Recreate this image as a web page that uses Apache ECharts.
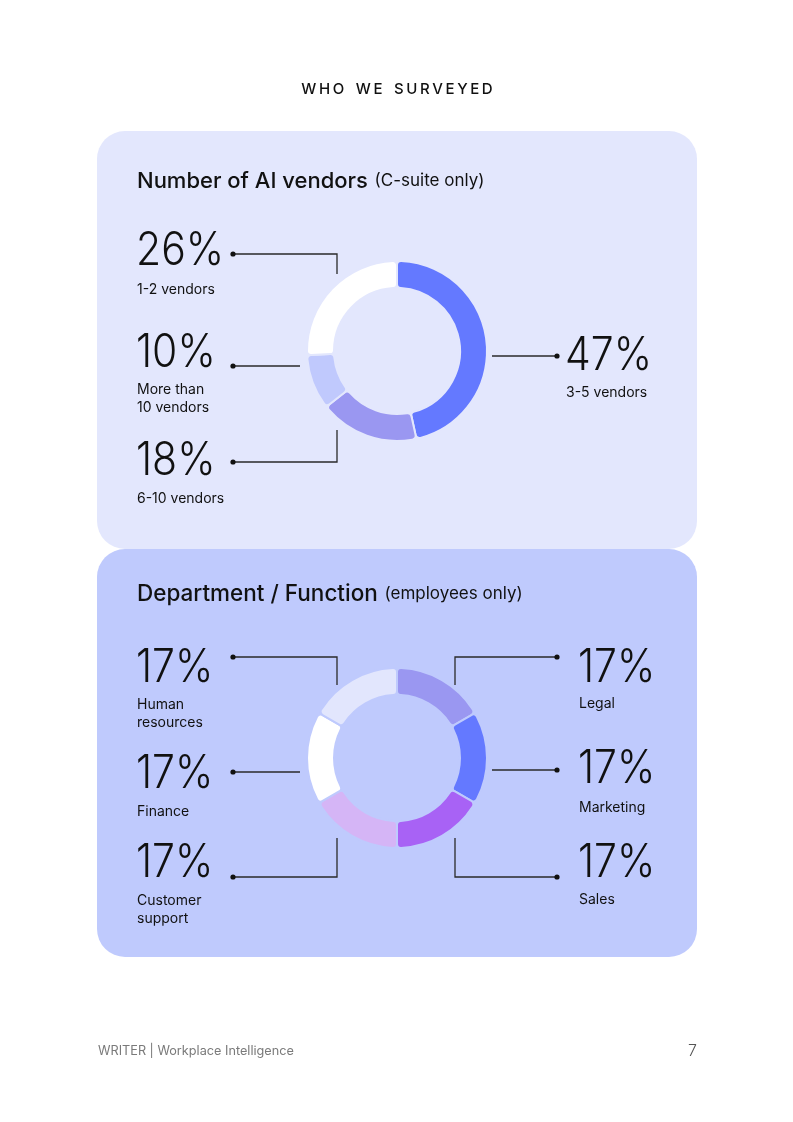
<!DOCTYPE html>
<html>
<head>
<meta charset="utf-8">
<script src="https://cdn.jsdelivr.net/npm/echarts@6/dist/echarts.min.js"></script>
<style>
  html, body { margin: 0; padding: 0; background: #ffffff; }
  #page { width: 793px; height: 1122px; }
</style>
</head>
<body>
<div id="page"></div>
<script>
// ---- data ----
var vendorCats = ['3-5 vendors', '6-10 vendors', 'More than\n10 vendors', '1-2 vendors'];
var vendorVals = [47, 18, 10, 26];
var deptCats = ['Legal', 'Marketing', 'Sales', 'Customer\nsupport', 'Finance', 'Human\nresources'];
var deptVals = [17, 17, 17, 17, 17, 17];

// ---- styling / layout ----
var vendorColors = ['#6479ff', '#9a97f1', '#c0c9fd', '#ffffff'];
var deptColors = ['#9a97f1', '#6479ff', '#a862f5', '#d5b5f6', '#ffffff', '#e2e6fd'];
var panel1Bg = '#e3e7fd';
var panel2Bg = '#bfcafd';
var ink = '#111111';
var lineCol = '#2a2a2a';
var FONT = 'Inter, "Noto Sans", sans-serif';

// label anchor: x, y of number centre, and leader line (first point gets the dot)
var vendorLayout = [
  { x: 565, y: 356, sub: 391, line: [[557, 356], [492, 356]] },
  { x: 136, y: 461, sub: 497, line: [[233, 462], [337, 462], [337, 430]] },
  { x: 136, y: 353, sub: 388, line: [[233, 366], [300, 366]] },
  { x: 136, y: 251, sub: 288, line: [[233, 254], [337, 254], [337, 274]] }
];
var deptLayout = [
  { x: 578, y: 668, sub: 702, line: [[557, 657], [455, 657], [455, 685]] },
  { x: 578, y: 769, sub: 806, line: [[557, 770], [492, 770]] },
  { x: 578, y: 863, sub: 898, line: [[557, 877], [455, 877], [455, 838]] },
  { x: 136, y: 863, sub: 899, line: [[233, 877], [337, 877], [337, 838]] },
  { x: 136, y: 774, sub: 810, line: [[233, 772], [300, 772]] },
  { x: 136, y: 668, sub: 703, line: [[233, 657], [337, 657], [337, 685]] }
];

function labelGraphics(cats, vals, layout) {
  var out = [];
  cats.forEach(function (name, i) {
    var l = layout[i];
    out.push({
      type: 'text', x: l.x, y: l.y, z: 10, scaleX: 0.89,
      style: { text: vals[i] + '%', font: '300 46px ' + FONT, fill: ink, align: 'left', verticalAlign: 'middle' }
    });
    out.push({
      type: 'text', x: l.x + 1, y: l.sub - 7, z: 10,
      style: { text: name, font: '400 14px ' + FONT, fill: ink, align: 'left', verticalAlign: 'top', lineHeight: 18 }
    });
    out.push({
      type: 'polyline', z: 10,
      shape: { points: l.line },
      style: { stroke: lineCol, lineWidth: 1.3, fill: null }
    });
    out.push({
      type: 'circle', z: 10,
      shape: { cx: l.line[0][0], cy: l.line[0][1], r: 2.6 },
      style: { fill: ink }
    });
  });
  return out;
}

function pieData(cats, vals, colors) {
  return cats.map(function (n, i) {
    return { name: n, value: vals[i], itemStyle: { color: colors[i] } };
  });
}

function titleText(y, main, sub, size) {
  return {
    type: 'text', x: 137, y: y, z: 10,
    style: {
      text: '{a|' + main + '}  {b|' + sub + '}',
      verticalAlign: 'middle', align: 'left',
      rich: {
        a: { font: '500 ' + size + 'px ' + FONT, fill: ink },
        b: { font: '400 17px ' + FONT, fill: ink }
      }
    }
  };
}

var graphics = [
  { type: 'rect', z: 0, shape: { x: 97, y: 131, width: 600, height: 418, r: 28 }, style: { fill: panel1Bg } },
  { type: 'rect', z: 0, shape: { x: 97, y: 549, width: 600, height: 408, r: 28 }, style: { fill: panel2Bg } },
  {
    type: 'text', x: 397, y: 89, z: 10,
    style: { text: 'W\u2009H\u2009O\u2002 W\u2009E\u2002 S\u2009U\u2009R\u2009V\u2009E\u2009Y\u2009E\u2009D', font: '500 15px ' + FONT, fill: ink, align: 'center', verticalAlign: 'middle' }
  },
  titleText(181, 'Number of AI vendors', '(C-suite only)', 22),
  titleText(594, 'Department / Function', '(employees only)', 22.5),
  {
    type: 'text', x: 98, y: 1051, z: 10,
    style: { text: 'WRITER | Workplace Intelligence', font: '400 12.7px ' + FONT, fill: '#7a7a7a', align: 'left', verticalAlign: 'middle' }
  },
  {
    type: 'text', x: 697, y: 1051, z: 10,
    style: { text: '7', font: '300 16px ' + FONT, fill: '#555555', align: 'right', verticalAlign: 'middle' }
  }
].concat(labelGraphics(vendorCats, vendorVals, vendorLayout))
 .concat(labelGraphics(deptCats, deptVals, deptLayout));

var chart = echarts.init(document.getElementById('page'), null, { renderer: 'canvas', width: 793, height: 1122 });

chart.setOption({
  animation: false,
  backgroundColor: '#ffffff',
  graphic: { elements: graphics },
  series: [
    {
      type: 'pie', z: 5, silent: true,
      center: [397, 351], radius: [63, 90],
      startAngle: 90, clockwise: true,
      label: { show: false }, labelLine: { show: false },
      itemStyle: { borderColor: panel1Bg, borderWidth: 2, borderRadius: 4 },
      data: pieData(vendorCats, vendorVals, vendorColors)
    },
    {
      type: 'pie', z: 5, silent: true,
      center: [397, 758], radius: [63, 90],
      startAngle: 90, clockwise: true,
      label: { show: false }, labelLine: { show: false },
      itemStyle: { borderColor: panel2Bg, borderWidth: 2, borderRadius: 4 },
      data: pieData(deptCats, deptVals, deptColors)
    }
  ]
});
</script>
</body>
</html>
